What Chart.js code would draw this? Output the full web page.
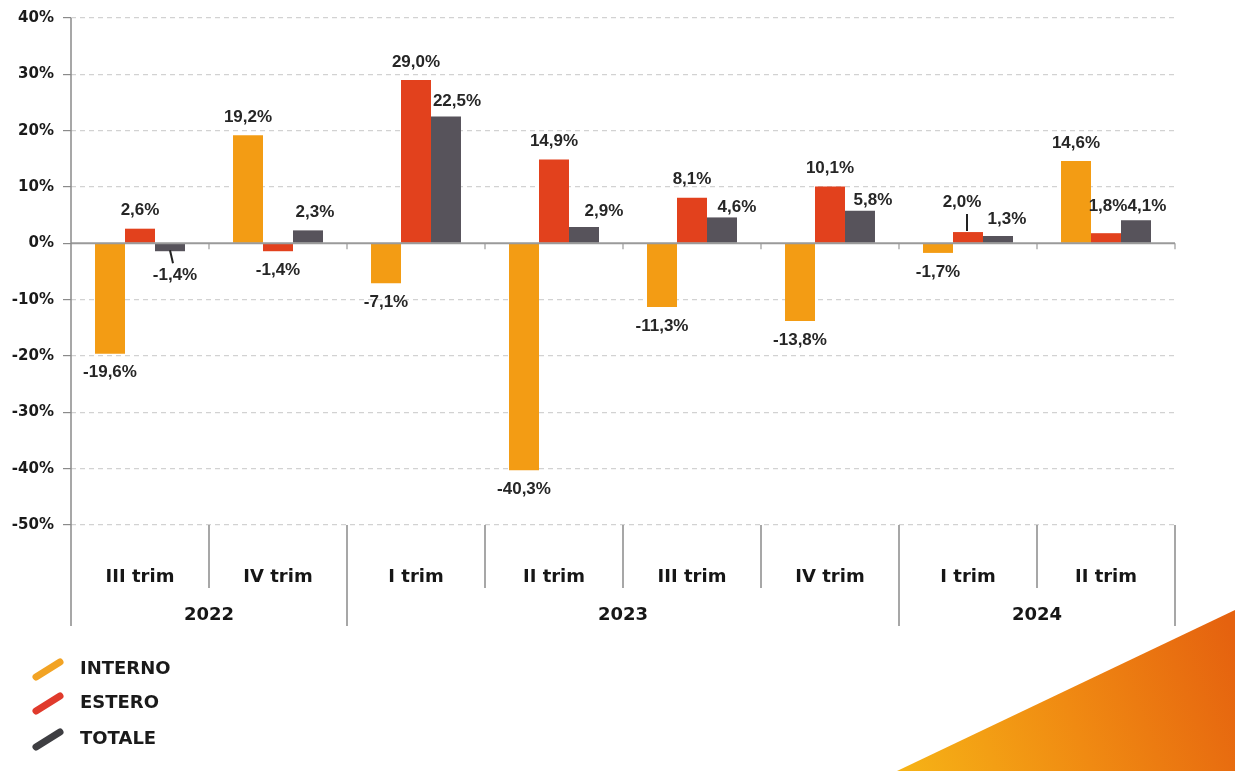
<!DOCTYPE html>
<html>
<head>
<meta charset="utf-8">
<script src="https://cdn.jsdelivr.net/npm/chart.js@4.4.1/dist/chart.umd.min.js"></script>
<style>
  html, body { margin: 0; padding: 0; background: #fff; }
  #wrap { width: 1235px; height: 771px; position: relative; }
</style>
</head>
<body>
<div id="wrap"><canvas id="chart" width="1235" height="771"></canvas></div>
<script>
// Quarters and years
const quarters = ['III trim', 'IV trim', 'I trim', 'II trim', 'III trim', 'IV trim', 'I trim', 'II trim'];
const years = ['2022', '2023', '2024'];
const yearSpans = [2, 4, 2]; // how many quarters fall under each year

// Series values (%)
const interno = [-19.6, 19.2, -7.1, -40.3, -11.3, -13.8, -1.7, 14.6];
const estero = [2.6, -1.4, 29.0, 14.9, 8.1, 10.1, 2.0, 1.8];
const totale = [-1.4, 2.3, 22.5, 2.9, 4.6, 5.8, 1.3, 4.1];

const seriesNames = ['INTERNO', 'ESTERO', 'TOTALE'];
const barColors = ['#F39C14', '#E2411D', '#57535B'];
const legendColors = ['#F2A324', '#E03A2C', '#3E3E42'];

// small hand nudges for value labels that sit off their bar: "dataset-index": [dx, dy, leaderLine]
const labelNudge = {
    '2-0': [5, 5, true],
    '2-1': [7, 0],
    '2-2': [11, 3],
    '2-3': [20, 2],
    '2-4': [15, 8],
    '2-5': [13, 8],
    '1-6': [-6, -12, true],
    '2-6': [9, 1],
    '1-7': [2, -9],
    '2-7': [11, 4]
};

const fmt = v => v.toFixed(1).replace('.', ',') + '%';

const decorPlugin = {
    id: 'decor',
    beforeDraw(chart) {
        const ctx = chart.ctx;
        // orange corner triangle
        const g = ctx.createLinearGradient(900, 771, 1235, 640);
        g.addColorStop(0, '#F6B316');
        g.addColorStop(0.5, '#F08A12');
        g.addColorStop(1, '#E5620F');
        ctx.save();
        ctx.fillStyle = g;
        ctx.beginPath();
        ctx.moveTo(897, 771);
        ctx.lineTo(1235, 610);
        ctx.lineTo(1235, 771);
        ctx.closePath();
        ctx.fill();
        ctx.restore();
    },
    afterDatasetsDraw(chart) {
        const ctx = chart.ctx;
        const area = chart.chartArea;
        const y = chart.scales.y;
        const n = quarters.length;
        const w = (area.right - area.left) / n;
        const zeroY = y.getPixelForValue(0);
        const bottomY = y.getPixelForValue(-50);

        ctx.save();
        // zero line
        ctx.strokeStyle = '#9a9a9a';
        ctx.lineWidth = 2;
        ctx.beginPath();
        ctx.moveTo(area.left, zeroY);
        ctx.lineTo(area.right, zeroY);
        ctx.stroke();
        ctx.lineWidth = 1.2;
        for (let i = 1; i <= n; i++) {
            const x = area.left + i * w;
            ctx.beginPath();
            ctx.moveTo(x, zeroY);
            ctx.lineTo(x, zeroY + 6);
            ctx.stroke();
        }

        // y axis line
        ctx.strokeStyle = '#8a8a8a';
        ctx.lineWidth = 1.5;
        ctx.beginPath();
        ctx.moveTo(area.left, area.top);
        ctx.lineTo(area.left, bottomY + 101);
        ctx.stroke();

        // separators under the plot
        const yearEdges = [0];
        yearSpans.forEach(s => yearEdges.push(yearEdges[yearEdges.length - 1] + s));
        for (let i = 1; i <= n; i++) {
            const x = area.left + i * w;
            const long = yearEdges.includes(i);
            ctx.beginPath();
            ctx.moveTo(x, bottomY);
            ctx.lineTo(x, bottomY + (long ? 101 : 63));
            ctx.stroke();
        }

        // quarter labels and years
        ctx.fillStyle = '#161616';
        ctx.textAlign = 'center';
        ctx.textBaseline = 'middle';
        ctx.font = 'bold 18px "DejaVu Sans"';
        quarters.forEach((q, i) => {
            ctx.fillText(q, area.left + (i + 0.5) * w, bottomY + 52);
        });
        years.forEach((yr, j) => {
            const mid = (yearEdges[j] + yearEdges[j + 1]) / 2;
            ctx.fillText(yr, area.left + mid * w, bottomY + 90);
        });

        // value labels
        ctx.font = 'bold 17px "Liberation Sans"';
        ctx.fillStyle = '#262626';
        chart.data.datasets.forEach((ds, di) => {
            const meta = chart.getDatasetMeta(di);
            meta.data.forEach((bar, i) => {
                const v = ds.data[i];
                const nd = labelNudge[di + '-' + i] || [0, 0];
                const lx = bar.x + nd[0];
                const ly = (v >= 0 ? bar.y - 18 : bar.y + 19) + nd[1];
                if (nd[2]) {
                    ctx.strokeStyle = '#222';
                    ctx.lineWidth = 2;
                    ctx.beginPath();
                    if (v >= 0) {
                        ctx.moveTo(lx + 5, ly + 12);
                        ctx.lineTo(lx + 5, bar.y - 1);
                    } else {
                        ctx.moveTo(bar.x, bar.y - 1);
                        ctx.lineTo(bar.x + 3, ly - 12);
                    }
                    ctx.stroke();
                }
                ctx.fillText(fmt(v), lx, ly);
            });
        });

        // legend
        ctx.textAlign = 'left';
        ctx.font = 'bold 18px "DejaVu Sans"';
        ctx.lineCap = 'round';
        ctx.lineWidth = 7;
        const legendY = [668, 702, 738];
        seriesNames.forEach((name, k) => {
            const cy = legendY[k];
            ctx.strokeStyle = legendColors[k];
            ctx.beginPath();
            ctx.moveTo(36, cy + 9);
            ctx.lineTo(60, cy - 6);
            ctx.stroke();
            ctx.fillStyle = '#1a1a1a';
            ctx.fillText(name, 80, cy + 1);
        });
        ctx.restore();
    }
};

const chart = new Chart(document.getElementById('chart').getContext('2d'), {
    type: 'bar',
    data: {
        labels: quarters,
        datasets: [
            { label: seriesNames[0], data: interno, backgroundColor: barColors[0] },
            { label: seriesNames[1], data: estero, backgroundColor: barColors[1] },
            { label: seriesNames[2], data: totale, backgroundColor: barColors[2] }
        ]
    },
    options: {
        responsive: false,
        animation: false,
        events: [],
        layout: { padding: { top: 18, right: 60, bottom: 246, left: 0 } },
        datasets: { bar: { barPercentage: 1, categoryPercentage: 0.652 } },
        plugins: { legend: { display: false }, tooltip: { enabled: false } },
        scales: {
            x: { display: false },
            y: {
                min: -50,
                max: 40,
                afterFit: s => { s.width = 71; },
                ticks: {
                    stepSize: 10,
                    padding: 9,
                    color: '#1a1a1a',
                    font: { family: 'DejaVu Sans', weight: 'bold', size: 15 },
                    callback: v => v + '%'
                },
                grid: {
                    color: c => c.tick.value === 0 ? 'rgba(0,0,0,0)' : '#d2d2d2',
                    lineWidth: 1.2,
                    tickLength: 8,
                    tickColor: '#8a8a8a',
                    tickBorderDash: []
                },
                border: { display: false, dash: [5, 4] }
            }
        }
    },
    plugins: [decorPlugin]
});
</script>
</body>
</html>
